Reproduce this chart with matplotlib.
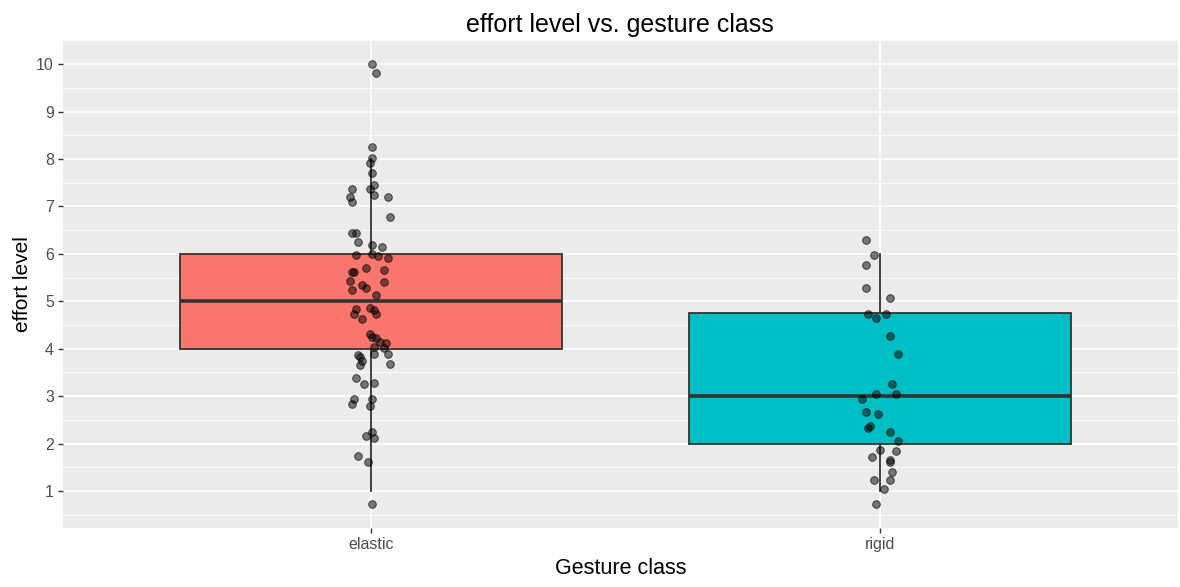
import matplotlib
matplotlib.use("Agg")
import matplotlib.pyplot as plt
from matplotlib.ticker import MultipleLocator

plt.rcParams['font.family'] = ['Liberation Sans', 'DejaVu Sans']

categories = ["elastic", "rigid"]
box_fill = ["#F8766D", "#00BFC4"]

# five-number summaries per gesture class
q1 = [4.0, 2.0]
median = [5.0, 3.0]
q3 = [6.0, 4.75]
whisker_lo = [1.0, 1.0]
whisker_hi = [8.0, 6.0]

# jittered observations: horizontal jitter offset and effort level
elastic_dx = [0.002, 0.010, 0.002, 0.002, -0.002, 0.002, -0.037, 0.006, -0.002, -0.041,
              -0.037, 0.006, 0.033, 0.037, -0.037, -0.029, -0.026, 0.002, 0.022, -0.029,
              0.002, 0.014, 0.033, -0.010, -0.037, -0.033, 0.026, -0.041, -0.018, -0.010,
              0.026, -0.037, 0.010, -0.029, -0.033, -0.002, 0.006, 0.010, -0.018, -0.002,
              0.002, 0.010, 0.018, 0.029, 0.006, 0.026, -0.026, -0.022, -0.018, -0.022,
              0.006, 0.033, 0.037, -0.029, -0.014, 0.006, -0.033, -0.037, 0.002, -0.002,
              0.002, -0.010, 0.006, -0.026, -0.006, 0.002]
elastic_y = [10.0, 9.82, 8.25, 8.03, 7.91, 7.70, 7.37, 7.45, 7.37, 7.20,
             7.10, 7.24, 7.19, 6.77, 6.44, 6.43, 6.26, 6.18, 6.15, 5.97,
             6.00, 5.95, 5.91, 5.71, 5.62, 5.62, 5.66, 5.43, 5.34, 5.29,
             5.41, 5.24, 5.13, 4.83, 4.74, 4.85, 4.81, 4.73, 4.62, 4.32,
             4.25, 4.22, 4.15, 4.11, 4.04, 4.01, 3.87, 3.83, 3.75, 3.65,
             3.89, 3.89, 3.68, 3.39, 3.25, 3.28, 2.95, 2.83, 2.95, 2.79,
             2.25, 2.16, 2.11, 1.74, 1.61, 0.72]

rigid_dx = [-0.028, -0.012, -0.028, -0.028, 0.020, -0.024, -0.008, 0.012, 0.020, 0.035,
            0.024, -0.008, 0.031, -0.035, -0.028, -0.004, -0.020, -0.024, 0.020, 0.035,
            0.031, 0.000, -0.016, 0.020, 0.020, 0.024, -0.012, 0.020, 0.008, -0.008]
rigid_y = [6.30, 5.97, 5.76, 5.28, 5.07, 4.73, 4.65, 4.73, 4.27, 3.89,
           3.25, 3.04, 3.04, 2.94, 2.66, 2.62, 2.37, 2.32, 2.24, 2.05,
           1.85, 1.86, 1.72, 1.65, 1.61, 1.40, 1.23, 1.23, 1.05, 0.72]

fig = plt.figure(figsize=(11.8, 5.87), dpi=100)
ax = fig.add_axes([0.0534, 0.1005, 0.9446, 0.8315])
ax.set_facecolor("#EBEBEB")
for s in ax.spines.values():
    s.set_visible(False)

positions = [1, 2]
stats = [dict(med=median[i], q1=q1[i], q3=q3[i], whislo=whisker_lo[i],
              whishi=whisker_hi[i], fliers=[], label=categories[i])
         for i in range(len(categories))]
bp = ax.bxp(stats, positions=positions, widths=0.75, patch_artist=True,
            showfliers=False, showcaps=False,
            boxprops=dict(edgecolor="#333333", linewidth=1.3),
            whiskerprops=dict(color="#333333", linewidth=1.3),
            medianprops=dict(color="#333333", linewidth=2.6, solid_capstyle="butt"),
            zorder=3)
for patch, c in zip(bp["boxes"], box_fill):
    patch.set_facecolor(c)

for pos, dx, ys in [(1, elastic_dx, elastic_y), (2, rigid_dx, rigid_y)]:
    ax.scatter([pos + d for d in dx], ys, s=30, facecolors=(0, 0, 0, 0.5),
               edgecolors=(0, 0, 0, 0.65), linewidths=0.7, zorder=4)

ax.set_xlim(0.395, 2.585)
ax.set_ylim(0.22, 10.51)
ax.set_xticks(positions)
ax.set_xticklabels(categories)
ax.yaxis.set_major_locator(MultipleLocator(1))
ax.yaxis.set_minor_locator(MultipleLocator(0.5))
ax.set_yticks(range(1, 11))

ax.grid(which="major", axis="both", color="white", linewidth=1.2, zorder=0)
ax.grid(which="minor", axis="y", color="white", linewidth=0.6, zorder=0)
ax.set_axisbelow(True)

ax.tick_params(axis="both", which="major", length=3.5, width=1, color="#333333",
               labelcolor="#4D4D4D", labelsize=11.5, pad=3)
ax.tick_params(axis="y", which="minor", length=0)

ax.set_xlabel("Gesture class", fontsize=15.5, color="black", labelpad=4)
ax.set_ylabel("effort level", fontsize=15, color="black", labelpad=3)
ax.set_title("effort level vs. gesture class", fontsize=18, color="black", pad=6)

fig.savefig("out.png", dpi=100)
